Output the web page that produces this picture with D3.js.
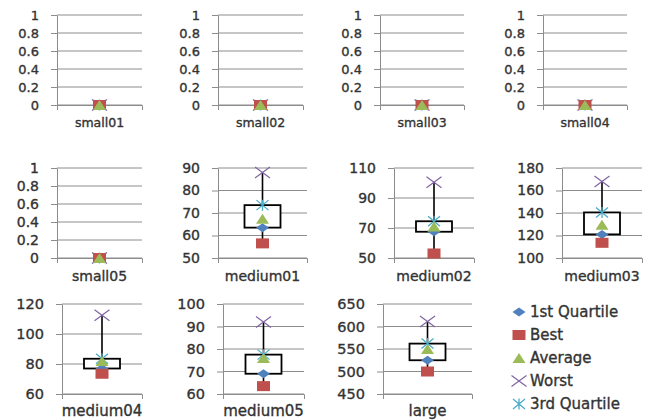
<!DOCTYPE html>
<html lang="en">
<head>
<meta charset="UTF-8">
<title>Box plots per instance</title>
<script src="https://d3js.org/d3.v7.min.js"></script>
<style>
    body { margin: 0; background: #fff; }
    svg { display: block; font-family: "DejaVu Sans", sans-serif; }
    .tick text, .lg { fill: #333; stroke: #333; stroke-width: 0.35px; }
</style>
</head>
<body>
<svg id="chart" width="652" height="420"></svg>
<script>
// data
const categories = ["small01", "small02", "small03", "small04", "small05",
    "medium01", "medium02", "medium03", "medium04", "medium05", "large"];
const best     = [0, 0, 0, 0, 0, 56.5, 53, 113.5, 73.5, 63.5, 500];
const q1       = [0, 0, 0, 0, 0, 63.5, 67.5, 121, 77, 69, 525];
const average  = [0, 0, 0, 0, 0, 67.5, 71, 129.5, 82, 76, 550];
const worst    = [0, 0, 0, 0, 0, 88, 100.5, 168, 112.5, 92, 611];
const q3       = [0, 0, 0, 0, 0, 73.5, 74.5, 140.5, 83.5, 77.5, 562];
const yMin     = [0, 0, 0, 0, 0, 50, 50, 100, 60, 60, 450];
const yMax     = [1, 1, 1, 1, 1, 90, 110, 180, 120, 100, 650];
const yStep    = [0.2, 0.2, 0.2, 0.2, 0.2, 10, 20, 20, 20, 10, 50];
const seriesNames = ["1st Quartile", "Best", "Average", "Worst", "3rd Quartile"];

// layout of the grid of small panels
const plotLeft  = [57, 218, 380, 543, 57, 218, 394, 562, 62, 223, 383];
const plotRight = [142, 303, 464, 627, 142, 307, 474, 642, 142, 304, 472];
const rowTop = [15, 168, 304];
const plotH = 90;
const yFont = [13, 14, 14.5];
const catFont = [12.5, 14, 15];
const catGap = [25, 25, 23];

const colors = { q1: "#4F81BD", best: "#C0504D", avg: "#9BBB59", worst: "#8064A2", q3: "#4BACC6" };

// marker shapes
function marker(g, kind, x, y) {
    const m = g.append("g").attr("transform", `translate(${x},${y})`);
    if (kind === 0) {
        m.append("path").attr("d", "M0,-4.5L6.5,0L0,4.5L-6.5,0Z").attr("fill", colors.q1);
    } else if (kind === 1) {
        m.append("rect").attr("x", -6.5).attr("y", -5).attr("width", 13).attr("height", 10).attr("fill", colors.best);
    } else if (kind === 2) {
        m.append("path").attr("d", "M0,-5L6.5,5L-6.5,5Z").attr("fill", colors.avg);
    } else if (kind === 3) {
        m.append("path").attr("d", "M-7.5,-5.5L7.5,5.5M7.5,-5.5L-7.5,5.5")
            .attr("stroke", colors.worst).attr("stroke-width", 1.2).attr("fill", "none");
    } else {
        m.append("path").attr("d", "M-6,-5L6,5M6,-5L-6,5M0,-5.5V5.5")
            .attr("stroke", colors.q3).attr("stroke-width", 1.3).attr("fill", "none");
    }
}

const svg = d3.select("#chart");

categories.forEach((cat, i) => {
    const row = Math.floor(i / 4);
    const top = rowTop[row], bottom = top + plotH;
    const left = plotLeft[i], right = plotRight[i];
    const g = svg.append("g");

    const y = d3.scaleLinear().domain([yMin[i], yMax[i]]).range([bottom, top]);
    const x = d3.scaleBand().domain([cat]).range([left, right]);
    const ticks = d3.range(yMin[i], yMax[i] + yStep[i] / 2, yStep[i]).map(v => +v.toFixed(4));

    // gridlines
    g.append("g").selectAll("line").data(ticks).join("line")
        .attr("x1", left).attr("x2", right)
        .attr("y1", d => y(d)).attr("y2", d => y(d))
        .attr("stroke", "#8c8c8c").attr("stroke-width", 1);

    // y axis
    const ya = g.append("g").attr("transform", `translate(${left},0)`)
        .call(d3.axisLeft(y).tickValues(ticks).tickSize(6).tickSizeOuter(0).tickPadding(12)
            .tickFormat(d3.format("~g")));
    ya.selectAll("path, line").attr("stroke", "#8c8c8c");
    ya.selectAll("text").attr("font-size", yFont[row]).attr("font-family", "DejaVu Sans");

    // x axis
    const xa = g.append("g").attr("transform", `translate(0,${bottom})`)
        .call(d3.axisBottom(x).tickSize(0).tickSizeOuter(5).tickPadding(catGap[row] - 12));
    xa.selectAll("path").attr("stroke", "#8c8c8c");
    xa.selectAll("text").attr("font-size", catFont[row]).attr("font-family", "DejaVu Sans");

    // box and whisker
    const cx = x(cat) + x.bandwidth() / 2;
    const boxW = 36;
    g.append("line").attr("x1", cx).attr("x2", cx)
        .attr("y1", y(worst[i])).attr("y2", y(best[i]))
        .attr("stroke", "#000").attr("stroke-width", 1.6);
    g.append("rect")
        .attr("x", cx - boxW / 2).attr("width", boxW)
        .attr("y", y(q3[i])).attr("height", y(q1[i]) - y(q3[i]))
        .attr("fill", "#fff").attr("stroke", "#000").attr("stroke-width", 1.8);

    // stacking order as seen in the picture: worst and q3 behind, average on top
    marker(g, 3, cx, y(worst[i]));
    marker(g, 4, cx, y(q3[i]));
    marker(g, 0, cx, y(q1[i]));
    marker(g, 1, cx, y(best[i]));
    marker(g, 2, cx, y(average[i]));
});

// legend
const legend = svg.append("g");
const legendY = d3.scalePoint().domain(seriesNames).range([312, 404]);
seriesNames.forEach((name, k) => {
    marker(legend, k, 519, legendY(name));
    legend.append("text").attr("class", "lg").attr("x", 530).attr("y", legendY(name)).attr("dy", "0.35em")
        .attr("font-size", 15).text(name);
});
</script>
</body>
</html>
